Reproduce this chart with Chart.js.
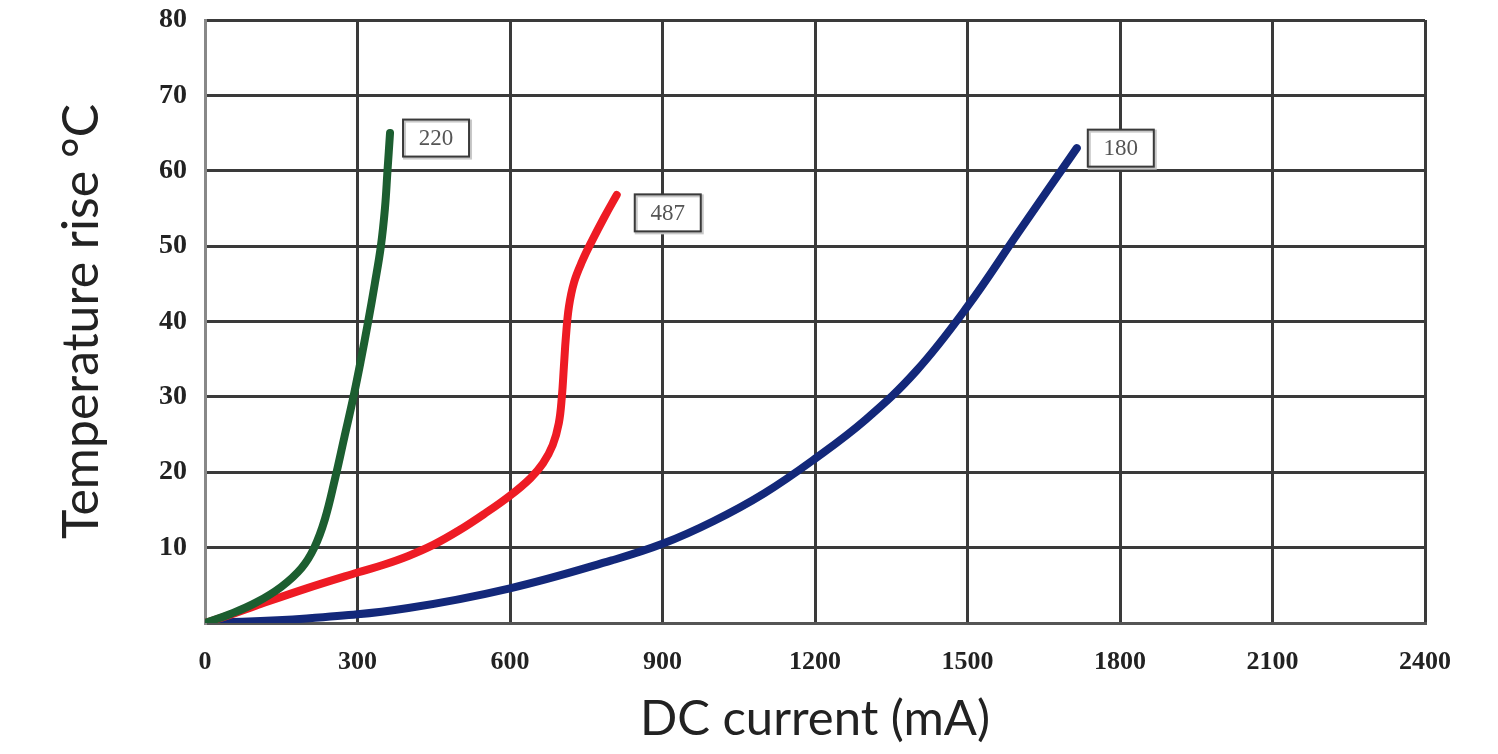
<!DOCTYPE html>
<html>
<head>
<meta charset="utf-8">
<script src="https://cdn.jsdelivr.net/npm/chart.js@4/dist/chart.umd.min.js"></script>
<style>
html,body{margin:0;padding:0;background:#fff;}
#wrap{width:1498px;height:754px;position:relative;}
</style>
</head>
<body>
<div id="wrap"><canvas id="c"></canvas></div>
<script>
// Data (x: DC current mA, y: temperature rise °C)
const xTicks = [0, 300, 600, 900, 1200, 1500, 1800, 2100, 2400];
const yTicks = [0, 10, 20, 30, 40, 50, 60, 70, 80];
const seriesNames = ['220', '487', '180'];

const green220 = [[0,0],[50,1.2],[100,2.7],[150,4.8],[190,7.3],[215,10],[236,13.8],[256,19.2],[274,24.6],[292,30],[307,35],[321,40],[334,45],[346,50],[354,55],[359,60],[364,65]];
const red487 = [[0,0],[50,1.1],[100,2.3],[200,4.6],[300,6.7],[350,7.7],[400,8.9],[450,10.4],[500,12.3],[550,14.5],[600,16.9],[640,19.2],[665,21.2],[684,23.6],[696,26.5],[702,30],[706,34],[710,38],[716,42],[726,45.2],[742,48],[762,50.8],[786,53.9],[810,56.8]];
const blue180 = [[0,0],[200,0.6],[400,2],[600,4.6],[800,8.3],[900,10.5],[1000,13.5],[1100,17.2],[1200,21.8],[1300,27],[1400,33.5],[1500,42],[1600,51.8],[1715,63]];

const toPts = a => a.map(p => ({x: p[0], y: p[1]}));

const labelOffsets = [[13, 5], [18, 18], [11, 0]];

const boxLabels = {
  id: 'boxLabels',
  afterDatasetsDraw(chart) {
    const ctx = chart.ctx;
    chart.data.datasets.forEach((ds, i) => {
      const meta = chart.getDatasetMeta(i);
      const last = meta.data[meta.data.length - 1];
      const off = labelOffsets[i];
      const w = 66, h = 37;
      const x = last.x + off[0];
      const y = last.y + off[1] - h / 2;
      ctx.save();
      ctx.fillStyle = '#ffffff';
      ctx.fillRect(x, y, w, h);
      ctx.strokeStyle = '#c8c8c8';
      ctx.lineWidth = 3;
      ctx.strokeRect(x + 1.5, y + 1.5, w, h);
      ctx.strokeStyle = '#3a3a3a';
      ctx.lineWidth = 2;
      ctx.strokeRect(x, y, w, h);
      ctx.fillStyle = '#555';
      ctx.font = '23px "Liberation Serif", serif';
      ctx.textAlign = 'center';
      ctx.textBaseline = 'middle';
      ctx.fillText(ds.label, x + w / 2, y + h / 2 + 1);
      ctx.restore();
    });
  }
};

const commonLine = {
  borderWidth: 8,
  pointRadius: 0,
  fill: false,
  tension: 0.4,
  borderCapStyle: 'round',
  borderJoinStyle: 'round'
};

new Chart(document.getElementById('c'), {
  type: 'line',
  data: {
    datasets: [
      Object.assign({label: seriesNames[0], data: toPts(green220), borderColor: '#1c5e30'}, commonLine),
      Object.assign({label: seriesNames[1], data: toPts(red487), borderColor: '#ee1b24'}, commonLine),
      Object.assign({label: seriesNames[2], data: toPts(blue180), borderColor: '#13287a'}, commonLine)
    ]
  },
  options: {
    responsive: true,
    maintainAspectRatio: false,
    animation: false,
    layout: {padding: {top: 20, right: 73, left: 0, bottom: 0}},
    plugins: {legend: {display: false}, tooltip: {enabled: false}},
    scales: {
      x: {
        type: 'linear',
        min: xTicks[0],
        max: xTicks[xTicks.length - 1],
        afterBuildTicks: s => { s.ticks = xTicks.map(v => ({value: v})); },
        afterFit: s => { s.height = 131; s.paddingLeft = 0; s.paddingRight = 0; },
        grid: {color: '#3a3a3a', lineWidth: 3, drawTicks: false},
        border: {color: '#555', width: 3},
        ticks: {
          padding: 24,
          color: '#222',
          font: {family: '"Liberation Serif", serif', size: 26, weight: 'bold'},
          callback: v => String(v)
        },
        title: {
          display: true,
          text: 'DC current (mA)',
          color: '#222',
          font: {family: 'Lato, "DejaVu Sans", sans-serif', size: 49},
          padding: {top: 0, bottom: 5}
        }
      },
      y: {
        type: 'linear',
        min: yTicks[0],
        max: yTicks[yTicks.length - 1],
        afterBuildTicks: s => { s.ticks = yTicks.map(v => ({value: v})); },
        afterFit: s => { s.width = 205; s.paddingTop = 0; s.paddingBottom = 0; },
        grid: {color: '#3a3a3a', lineWidth: 3, drawTicks: false},
        border: {color: '#888', width: 3},
        ticks: {
          padding: 18,
          color: '#222',
          font: {family: '"Liberation Serif", serif', size: 28, weight: 'bold'},
          callback: v => (v === 0 ? '' : String(v))
        },
        title: {
          display: true,
          text: 'Temperature rise °C',
          color: '#222',
          font: {family: 'Lato, "DejaVu Sans", sans-serif', size: 50},
          padding: {top: 52, bottom: 0}
        }
      }
    }
  },
  plugins: [boxLabels]
});
</script>
</body>
</html>
